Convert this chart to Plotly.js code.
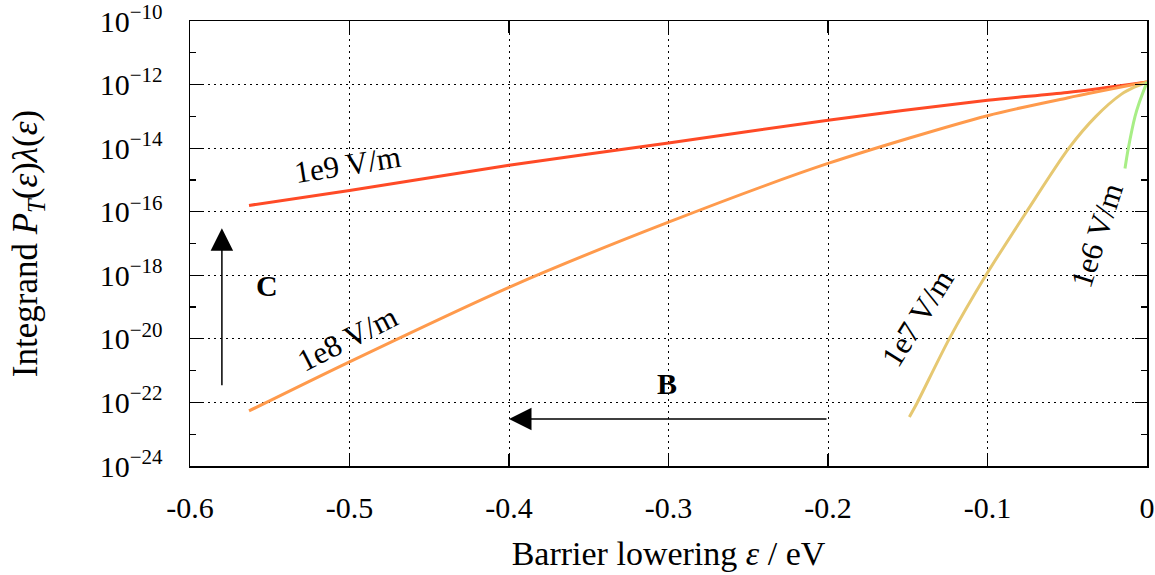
<!DOCTYPE html>
<html>
<head>
<meta charset="utf-8">
<script src="https://cdn.plot.ly/plotly-3.0.1.min.js"></script>
<style>html,body{margin:0;padding:0;background:#fff;}#chart{width:1155px;height:575px;}</style>
</head>
<body>
<div id="chart"></div>
<script>
// ---- data ----
const fieldLabels = ['1e9 V/m', '1e8 V/m', '1e7 V/m', '1e6 V/m'];
const x_1e9 = [-0.563, -0.5, -0.4, -0.3, -0.2, -0.1, -0.05, 0];
const y_1e9 = [1.58e-16, 4.68e-16, 2.88e-15, 1.45e-14, 7.6e-14, 3.2e-13, 5.6e-13, 1.2e-12];
const x_1e8 = [-0.563, -0.5, -0.4, -0.3, -0.2, -0.1, -0.05, 0];
const y_1e8 = [5.4e-23, 1.9e-21, 4.2e-19, 4.7e-17, 3.3e-15, 1.05e-13, 3.8e-13, 1.2e-12];
const x_1e7 = [-0.149, -0.144, -0.124, -0.101, -0.0755, -0.049, -0.032, -0.016, -0.008, 0];
const y_1e7 = [3.5e-23, 1e-22, 1e-20, 1e-18, 1e-16, 1e-14, 1e-13, 5e-13, 8.3e-13, 1.2e-12];
const x_1e6 = [-0.0138, -0.0117, -0.0075, -0.005, 0];
const y_1e6 = [2.3e-15, 1e-14, 1e-13, 2.6e-13, 1.2e-12];

const xTickVals = [-0.6, -0.5, -0.4, -0.3, -0.2, -0.1, 0];
const xTickText = ['-0.6', '-0.5', '-0.4', '-0.3', '-0.2', '-0.1', '0'];
const yExponents = [-24, -22, -20, -18, -16, -14, -12, -10];
const yMinorExponents = [-23, -21, -19, -17, -15, -13, -11];

const colors = ['#ff4a26', '#ff9a4c', '#e6c872', '#a8ee86'];

const FONT = 'Liberation Serif';

const series = [[x_1e9, y_1e9], [x_1e8, y_1e8], [x_1e7, y_1e7], [x_1e6, y_1e6]];
const traces = series.map((s, i) => ({
  type: 'scatter', mode: 'lines', x: s[0], y: s[1], name: fieldLabels[i],
  line: {color: colors[i], width: 3, shape: 'spline', smoothing: 0.8},
  showlegend: false, hoverinfo: 'skip'
}));

// label positions/angles for curve labels
const labelPos = [
  {x: -0.501, y: -14.53, a: -9},
  {x: -0.501, y: -20.0, a: -27},
  {x: -0.1436, y: -19.34, a: -58},
  {x: -0.0313, y: -16.76, a: -72}
];

const annotations = labelPos.map((p, i) => ({
  x: p.x, y: p.y, xref: 'x', yref: 'y', text: fieldLabels[i], showarrow: false,
  textangle: p.a, xanchor: 'center', yanchor: 'middle',
  font: {family: FONT, size: 31, color: '#000'}
}));

// arrows C and B
annotations.push({
  x: -0.58, y: -16.52, ax: -0.58, ay: -21.51, xref: 'x', yref: 'y', axref: 'x', ayref: 'y',
  text: '', showarrow: true, arrowhead: 2, arrowsize: 3, arrowwidth: 1.5, arrowcolor: '#000'
});
annotations.push({
  x: -0.4, y: -22.52, ax: -0.2, ay: -22.52, xref: 'x', yref: 'y', axref: 'x', ayref: 'y',
  text: '', showarrow: true, arrowhead: 2, arrowsize: 3, arrowwidth: 1.5, arrowcolor: '#000'
});
annotations.push({x: -0.5515, y: -18.31, xref: 'x', yref: 'y', text: '<b>C</b>', showarrow: false,
  font: {family: FONT, size: 30, color: '#000'}});
annotations.push({x: -0.301, y: -21.40, xref: 'x', yref: 'y', text: '<b>B</b>', showarrow: false,
  font: {family: FONT, size: 30, color: '#000'}});

const layout = {
  width: 1155, height: 575,
  margin: {l: 190, r: 8, t: 21, b: 109},
  paper_bgcolor: '#fff', plot_bgcolor: '#fff',
  font: {family: FONT, size: 30, color: '#000'},
  xaxis: {
    range: [-0.6, 0], tickmode: 'array', tickvals: xTickVals, ticktext: xTickText,
    ticks: 'inside', ticklen: 12, tickwidth: 1.2, tickcolor: '#000',
    mirror: 'allticks', showline: true, linecolor: '#000', linewidth: 1.5,
    showgrid: true, gridcolor: '#000', gridwidth: 1, griddash: '2px,4px',
    zeroline: false, ticklabelstandoff: 14, ticklabeloverflow: 'allow',
    tickfont: {family: FONT, size: 30, color: '#000'},
    title: {text: 'Barrier lowering <i>ε</i> / eV', font: {family: FONT, size: 34, color: '#000'}, standoff: 18}
  },
  yaxis: {
    type: 'log', range: [-24, -10], tickmode: 'array',
    tickvals: yExponents.map(e => Math.pow(10, e)),
    ticktext: yExponents.map(e => '10<sup>−' + Math.abs(e) + '</sup>'),
    ticks: 'inside', ticklen: 12, tickwidth: 1.2, tickcolor: '#000',
    mirror: 'allticks', showline: true, linecolor: '#000', linewidth: 1.5,
    showgrid: true, gridcolor: '#000', gridwidth: 1, griddash: '2px,4px',
    zeroline: false, ticklabelstandoff: 20, ticklabeloverflow: 'allow',
    minor: {tickmode: 'array', tickvals: yMinorExponents.map(e => Math.pow(10, e)),
      ticks: 'inside', ticklen: 6, tickwidth: 1.2, tickcolor: '#000', showgrid: false},
    tickfont: {family: FONT, size: 30, color: '#000'},
    title: {text: 'Integrand <i>P<sub>T</sub></i>(<i>ε</i>)<i>λ</i>(<i>ε</i>)', font: {family: FONT, size: 35, color: '#000'}, standoff: 51}
  },
  annotations: annotations,
  showlegend: false
};

Plotly.newPlot('chart', traces, layout, {displayModeBar: false, staticPlot: true});
</script>
</body>
</html>
